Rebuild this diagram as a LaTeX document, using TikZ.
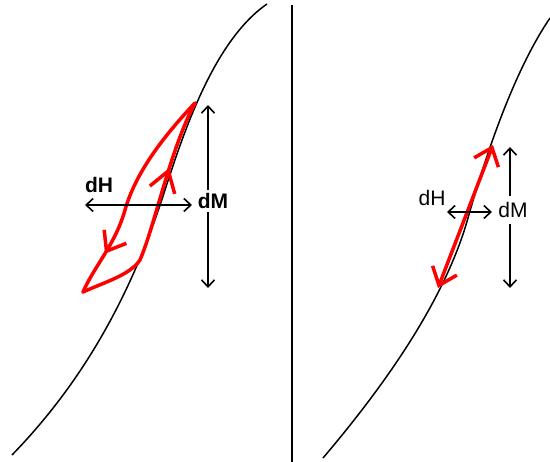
\documentclass[tikz,border=0pt]{standalone}
\usepackage{fontspec}
\setmainfont{Liberation Sans}
\usetikzlibrary{arrows.meta,decorations.markings}

\tikzset{
  curve/.style={line width=1.5pt},
  redloop/.style={red,line width=3.5pt,line join=round,line cap=round},
  redhead/.style 2 args={postaction={decorate,decoration={markings,
     mark=at position #1 with {\arrow{Straight Barb[length=#2,width=26pt]}}}}},
  dbl/.style={line width=1.6pt,{Straight Barb[length=7pt,width=13pt]}-{Straight Barb[length=7pt,width=13pt]}},
  sgl/.style={line width=1.6pt,-{Straight Barb[length=7pt,width=13pt]}},
  lbl/.style={font=\fontsize{21}{23}\selectfont,inner sep=1pt}
}

\begin{document}
\begin{tikzpicture}[x=1pt,y=-1pt]
\useasboundingbox (0,0) rectangle (550,462);
\fill[white] (0,0) rectangle (550,462);

\draw[line width=1.6pt] (292,5) -- (292,462);

\draw[curve] (12,455) .. controls (80,385) and (130,300) .. (165,190)
  .. controls (185,128) and (215,40) .. (267,4);
\draw[redloop,redhead={0.80}{17pt}] (195,103) .. controls (160,140) and (135,175) .. (125,210)
  .. controls (115,245) and (95,265) .. (83,292);
\draw[redloop,redhead={0.70}{20pt}] (83,292) .. controls (105,282) and (130,275) .. (140,260)
  .. controls (155,225) and (170,150) .. (195,103);

\coordinate (hla) at (85,205);
\coordinate (hra) at (192,205);
\coordinate (mta) at (208,105);
\coordinate (mba) at (208,288);
\node[lbl,font=\fontsize{21}{23}\selectfont\bfseries] (dHa) at (99,185) {dH};
\node[lbl,font=\fontsize{21}{23}\selectfont\bfseries,inner ysep=3pt] (dMa) at (213,201) {dM};
\draw[dbl] (hla) -- (hra);
\draw[sgl] (mta |- dMa.north) -- (mta);
\draw[sgl] (mba |- dMa.south) -- (mba);

\draw[curve] (323,458) .. controls (385,385) and (445,300) .. (468,218)
  .. controls (490,140) and (518,65) .. (550,18);
\coordinate (rb) at (438,288);
\coordinate (rt) at (493,145);
\draw[red,line width=3.5pt,{Straight Barb[length=16pt,width=26pt]}-{Straight Barb[length=16pt,width=26pt]}] (rb) -- (rt);

\coordinate (hlb) at (447,212);
\coordinate (hrb) at (492,212);
\coordinate (mtb) at (510,147);
\coordinate (mbb) at (510,288);
\node[lbl] (dHb) at (432,198) {dH};
\node[lbl,inner ysep=6pt] (dMb) at (513,210) {dM};
\draw[dbl] (hlb) -- (hrb);
\draw[sgl] (mtb |- dMb.north) -- (mtb);
\draw[sgl] (mbb |- dMb.south) -- (mbb);
\end{tikzpicture}
\end{document}
